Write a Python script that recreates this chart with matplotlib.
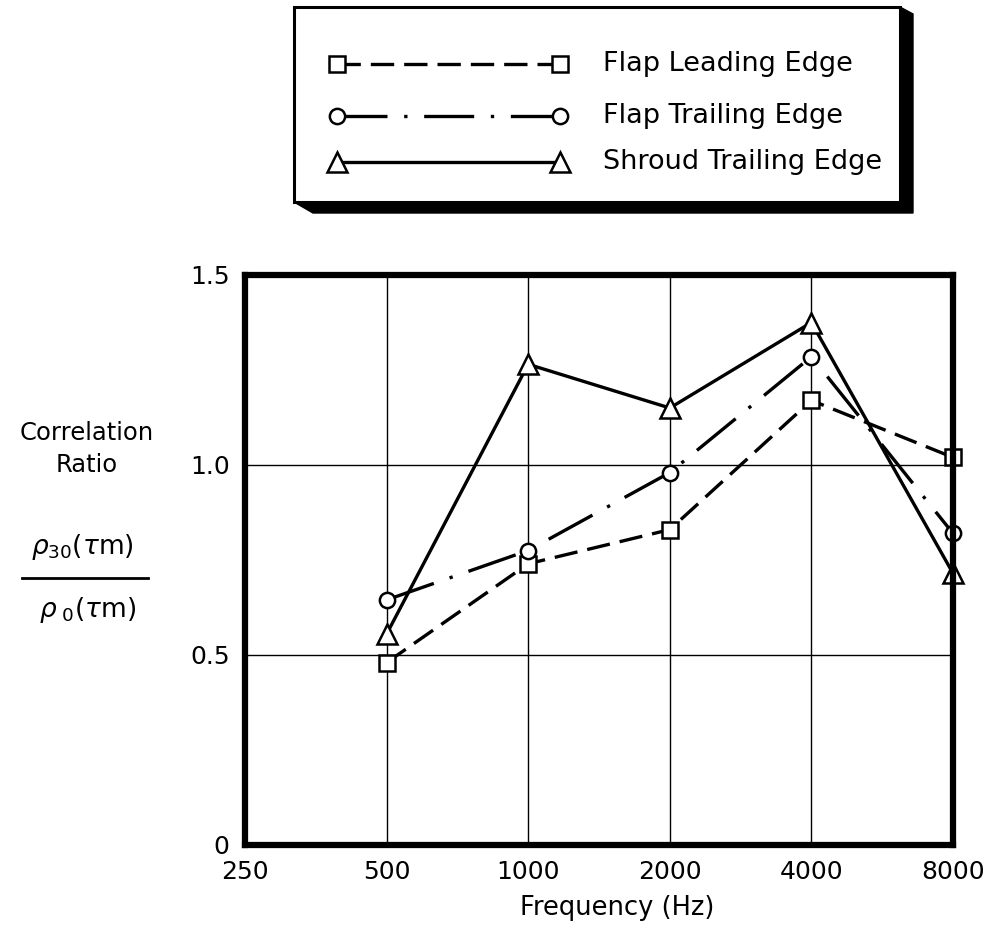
import numpy as np
import matplotlib
matplotlib.use('Agg')
from matplotlib import pyplot as plt
from matplotlib.patches import Rectangle, Polygon
from matplotlib.ticker import FixedLocator, NullLocator

plt.rcParams['font.family'] = ['DejaVu Sans']

freqs = [500, 1000, 2000, 4000, 8000]
flap_leading = [0.48, 0.74, 0.83, 1.17, 1.02]
flap_trailing = [0.645, 0.775, 0.98, 1.285, 0.82]
shroud_trailing = [0.555, 1.265, 1.15, 1.375, 0.715]

x_ticks = [250, 500, 1000, 2000, 4000, 8000]
x_ticklabels = ['250', '500', '1000', '2000', '4000', '8000']
y_ticks = [0, 0.5, 1.0, 1.5]
y_ticklabels = ['0', '0.5', '1.0', '1.5']

series = [
    ('Flap Leading Edge', flap_leading, 's', 11, (0, (7, 3))),
    ('Flap Trailing Edge', flap_trailing, 'o', 11, (0, (15, 5, 1, 5))),
    ('Shroud Trailing Edge', shroud_trailing, '^', 14, '-'),
]

W, H = 991, 934
fig = plt.figure(figsize=(W / 100, H / 100), dpi=100)
fig.patch.set_facecolor('white')

# main plot, placed in pixel terms
left, right, top, bottom = 245, 953, 275, 845
ax = fig.add_axes([left / W, 1 - bottom / H, (right - left) / W, (bottom - top) / H])
ax.set_xscale('log', base=2)
ax.set_xlim(250, 8000)
ax.set_ylim(0, 1.5)
ax.xaxis.set_major_locator(FixedLocator(x_ticks))
ax.xaxis.set_minor_locator(NullLocator())
ax.set_xticklabels(x_ticklabels)
ax.set_yticks(y_ticks)
ax.set_yticklabels(y_ticklabels)
ax.tick_params(length=0, labelsize=18, pad=11)
ax.grid(True, color='black', linewidth=1.0)
ax.set_axisbelow(True)
for sp in ax.spines.values():
    sp.set_linewidth(4.5)
    sp.set_zorder(5)

for name, vals, mk, ms, ls in series:
    ax.plot(freqs, vals, linestyle=ls, color='black', linewidth=2.4,
            marker=mk, markersize=ms, markerfacecolor='white',
            markeredgecolor='black', markeredgewidth=1.8, clip_on=False, zorder=4)

# overlay in pixel coordinates for the legend box and the y label block
ov = fig.add_axes([0, 0, 1, 1], zorder=10)
ov.set_xlim(0, W)
ov.set_ylim(H, 0)
ov.axis('off')

bx0, by0, bx1, by1 = 294, 7, 900, 202
ov.add_patch(Polygon([(bx0, by1), (313, 213), (913, 213), (913, 14), (bx1, by0), (bx1, by1)],
                     closed=True, facecolor='black', edgecolor='black', linewidth=1))
ov.add_patch(Rectangle((bx0, by0), bx1 - bx0, by1 - by0, facecolor='white',
                       edgecolor='black', linewidth=2.2))

rows = [64, 116, 162]
for (name, vals, mk, ms, ls), ry in zip(series, rows):
    ov.plot([337, 560], [ry, ry], linestyle=ls, color='black', linewidth=2.4,
            marker=mk, markersize=ms, markerfacecolor='white',
            markeredgecolor='black', markeredgewidth=1.8)
    ov.text(603, ry, name, fontsize=19.5, va='center', ha='left')

ov.text(87, 433, 'Correlation', fontsize=17.5, ha='center', va='center')
ov.text(87, 465, 'Ratio', fontsize=17.5, ha='center', va='center')
ov.text(82, 547, r'$\rho_{30}(\tau\mathrm{m})$', fontsize=19, ha='center', va='center')
ov.plot([22, 148], [578, 578], color='black', linewidth=2.0)
ov.text(88, 610, r'$\rho_{\ 0}(\tau\mathrm{m})$', fontsize=19, ha='center', va='center')

ov.text(617, 908, 'Frequency (Hz)', fontsize=18.5, ha='center', va='center')

fig.savefig('out.png', dpi=100, facecolor='white')
